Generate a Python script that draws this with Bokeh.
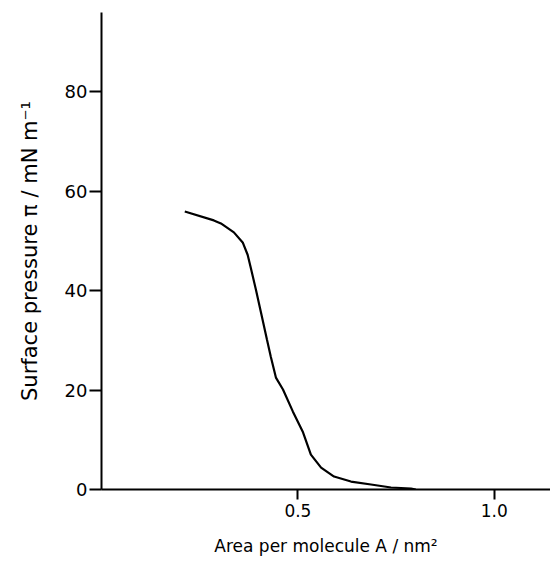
from bokeh.plotting import figure
from bokeh.models import Range1d, FixedTicker
from bokeh.embed import file_html
from bokeh.resources import INLINE

# Data (area per molecule in nm^2, surface pressure in mN/m)
area = [0.212, 0.286, 0.304, 0.337, 0.360, 0.372, 0.380, 0.393, 0.406, 0.421,
        0.431, 0.444, 0.462, 0.487, 0.513, 0.533, 0.559, 0.592, 0.635, 0.686,
        0.737, 0.788, 0.800]
pressure = [55.9, 54.1, 53.5, 51.7, 49.6, 47.2, 44.6, 40.2, 35.6, 30.2,
            26.7, 22.5, 20.1, 15.7, 11.5, 7.0, 4.4, 2.6, 1.6, 1.0,
            0.4, 0.2, 0.0]
x_ticks = [0.5, 1.0]
y_ticks = [0, 20, 40, 60, 80]
x_label = "Area per molecule A / nm\u00b2"
y_label = "Surface pressure \u03c0 / mN m\u207b\u00b9"

FONT = "DejaVu Sans"

p = figure(width=550, height=566, output_backend="svg", toolbar_location=None,
           x_range=Range1d(0.0, 1.143), y_range=Range1d(0, 95.9),
           min_border_left=101, min_border_right=0, min_border_top=12,
           min_border_bottom=77)
p.outline_line_color = None
p.xgrid.visible = False
p.ygrid.visible = False
p.background_fill_color = "white"
p.border_fill_color = "white"

p.line(area, pressure, line_color="black", line_width=2.2)

xa = p.xaxis[0]
xa.ticker = FixedTicker(ticks=x_ticks)
xa.major_label_overrides = {0.5: "0.5", 1.0: "1.0"}
xa.minor_tick_line_color = None
xa.major_tick_in = 0
xa.major_tick_out = 10
xa.axis_line_width = 2
xa.major_tick_line_width = 2
xa.axis_line_color = "black"
xa.major_tick_line_color = "black"
xa.major_label_text_font = FONT
xa.major_label_text_font_size = "17px"
xa.major_label_text_color = "black"
xa.major_label_standoff = 4
xa.axis_label = x_label
xa.axis_label_text_font = FONT
xa.axis_label_text_font_size = "17px"
xa.axis_label_text_font_style = "normal"
xa.axis_label_text_color = "black"
xa.axis_label_standoff = 16

ya = p.yaxis[0]
ya.ticker = FixedTicker(ticks=y_ticks)
ya.minor_tick_line_color = None
ya.major_tick_in = 0
ya.major_tick_out = 12
ya.axis_line_width = 2
ya.major_tick_line_width = 2
ya.axis_line_color = "black"
ya.major_tick_line_color = "black"
ya.major_label_text_font = FONT
ya.major_label_text_font_size = "18px"
ya.major_label_text_color = "black"
ya.major_label_standoff = 2
ya.axis_label = y_label
ya.axis_label_text_font = FONT
ya.axis_label_text_font_size = "21px"
ya.axis_label_text_font_style = "normal"
ya.axis_label_text_color = "black"
ya.axis_label_standoff = 20

open("out.html", "w").write(file_html(p, INLINE))
